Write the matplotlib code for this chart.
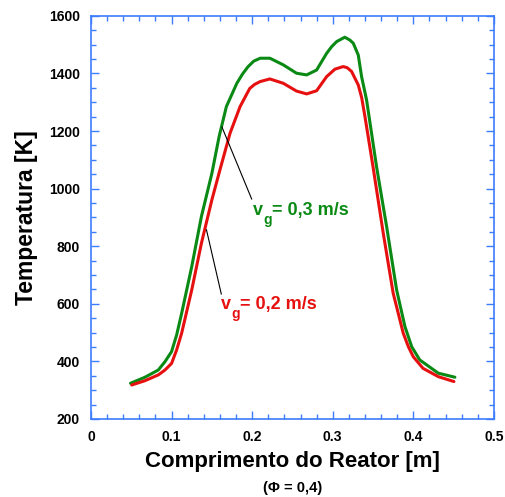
import matplotlib
matplotlib.use("Agg")
import matplotlib.pyplot as plt
from matplotlib.ticker import MultipleLocator
from matplotlib.transforms import offset_copy

plt.rcParams['font.family'] = ['Liberation Sans', 'DejaVu Sans']
plt.rcParams['font.weight'] = 'bold'

# Data: v_g = 0.3 m/s (green)
x_green = [0.049, 0.067, 0.0835, 0.0918, 0.100, 0.1063, 0.1125, 0.125, 0.137, 0.150,
           0.159, 0.168, 0.181, 0.188, 0.195, 0.202, 0.210, 0.222, 0.2386, 0.255,
           0.2676, 0.280, 0.2924, 0.2986, 0.305, 0.315, 0.3213, 0.3255, 0.3317, 0.3358,
           0.342, 0.3544, 0.3669, 0.3793, 0.3896, 0.398, 0.408, 0.431, 0.4516]
t_green = [324, 345, 370, 399, 434, 492, 567, 729, 903, 1053,
           1181, 1285, 1366, 1398, 1424, 1443, 1453, 1453, 1430, 1401,
           1395, 1412, 1470, 1493, 1511, 1526, 1516, 1505, 1464, 1389,
           1308, 1076, 868, 648, 521, 451, 405, 359, 345]

# Data: v_g = 0.2 m/s (red)
x_red = [0.0505, 0.067, 0.0835, 0.0918, 0.100, 0.1063, 0.1125, 0.125, 0.137, 0.150,
         0.160, 0.1725, 0.185, 0.197, 0.203, 0.210, 0.222, 0.2386, 0.255, 0.2676,
         0.280, 0.2924, 0.3027, 0.313, 0.318, 0.3234, 0.3317, 0.336, 0.340, 0.350,
         0.3627, 0.375, 0.3875, 0.394, 0.400, 0.412, 0.431, 0.4504]
t_red = [318, 333, 353, 370, 393, 440, 498, 648, 810, 961,
         1065, 1192, 1285, 1348, 1362, 1372, 1381, 1366, 1339, 1329,
         1340, 1389, 1415, 1424, 1420, 1407, 1360, 1315, 1250, 1076,
         845, 637, 498, 450, 416, 376, 347, 330]

x_ticks = [0, 0.1, 0.2, 0.3, 0.4, 0.5]
x_tick_labels = ['0', '0.1', '0.2', '0.3', '0.4', '0.5']
y_ticks = [200, 400, 600, 800, 1000, 1200, 1400, 1600]

blue = '#3d7cff'
green = '#0a8a14'
red = '#e61010'

fig = plt.figure(figsize=(5.05, 4.97), dpi=100)
ax = fig.add_axes([0.1802, 0.157, 0.978 - 0.1802, 0.968 - 0.157])

ax.plot(x_green, t_green, color=green, lw=2.2, solid_joinstyle='round', solid_capstyle='round')
ax.plot(x_red, t_red, color=red, lw=2.2, solid_joinstyle='round', solid_capstyle='round')

ax.set_xlim(0, 0.5)
ax.set_ylim(200, 1600)
ax.set_xticks(x_ticks)
ax.set_xticklabels(x_tick_labels)
ax.set_yticks(y_ticks)
ax.xaxis.set_minor_locator(MultipleLocator(0.02))
ax.yaxis.set_minor_locator(MultipleLocator(50))

for s in ax.spines.values():
    s.set_color(blue)
    s.set_linewidth(1.2)
ax.tick_params(which='both', direction='in', top=True, right=True, color=blue, width=1.0)
ax.tick_params(which='major', length=6, pad=8, labelsize=10)
ax.tick_params(which='minor', length=3.3)
for lab in ax.get_xticklabels() + ax.get_yticklabels():
    lab.set_fontweight('bold')

ax.set_xlabel('Comprimento do Reator [m]', fontsize=16, fontweight='bold', labelpad=5)
ax.set_ylabel('Temperatura [K]', fontsize=16.5, fontweight='bold', labelpad=8)
fig.text(0.5 * (0.1802 + 0.978), 1 - 488 / 497, '(Φ = 0,4)', ha='center', va='center',
         fontsize=10.5, fontweight='bold')

# Leader lines
ax.plot([0.1625, 0.1994], [1214, 964], color='black', lw=0.8)
ax.plot([0.1433, 0.1617], [857, 634], color='black', lw=0.8)

renderer = fig.canvas.get_renderer()


def vg_label(x, y, rest, color):
    t1 = ax.text(x, y, 'v', color=color, fontsize=13, fontweight='bold',
                 ha='left', va='baseline')
    w1 = t1.get_window_extent(renderer).width
    t2 = ax.text(x, y, 'g', color=color, fontsize=10, fontweight='bold',
                 ha='left', va='baseline',
                 transform=offset_copy(ax.transData, fig, x=w1 + 0.5, y=-9, units='dots'))
    w2 = t2.get_window_extent(renderer).width
    ax.text(x, y, rest, color=color, fontsize=13, fontweight='bold',
            ha='left', va='baseline',
            transform=offset_copy(ax.transData, fig, x=w1 + w2 + 0.5, y=0, units='dots'))


vg_label(0.201, 909, '= 0,3 m/s', green)
vg_label(0.1613, 582, '= 0,2 m/s', red)

fig.savefig('out.png', dpi=100)
